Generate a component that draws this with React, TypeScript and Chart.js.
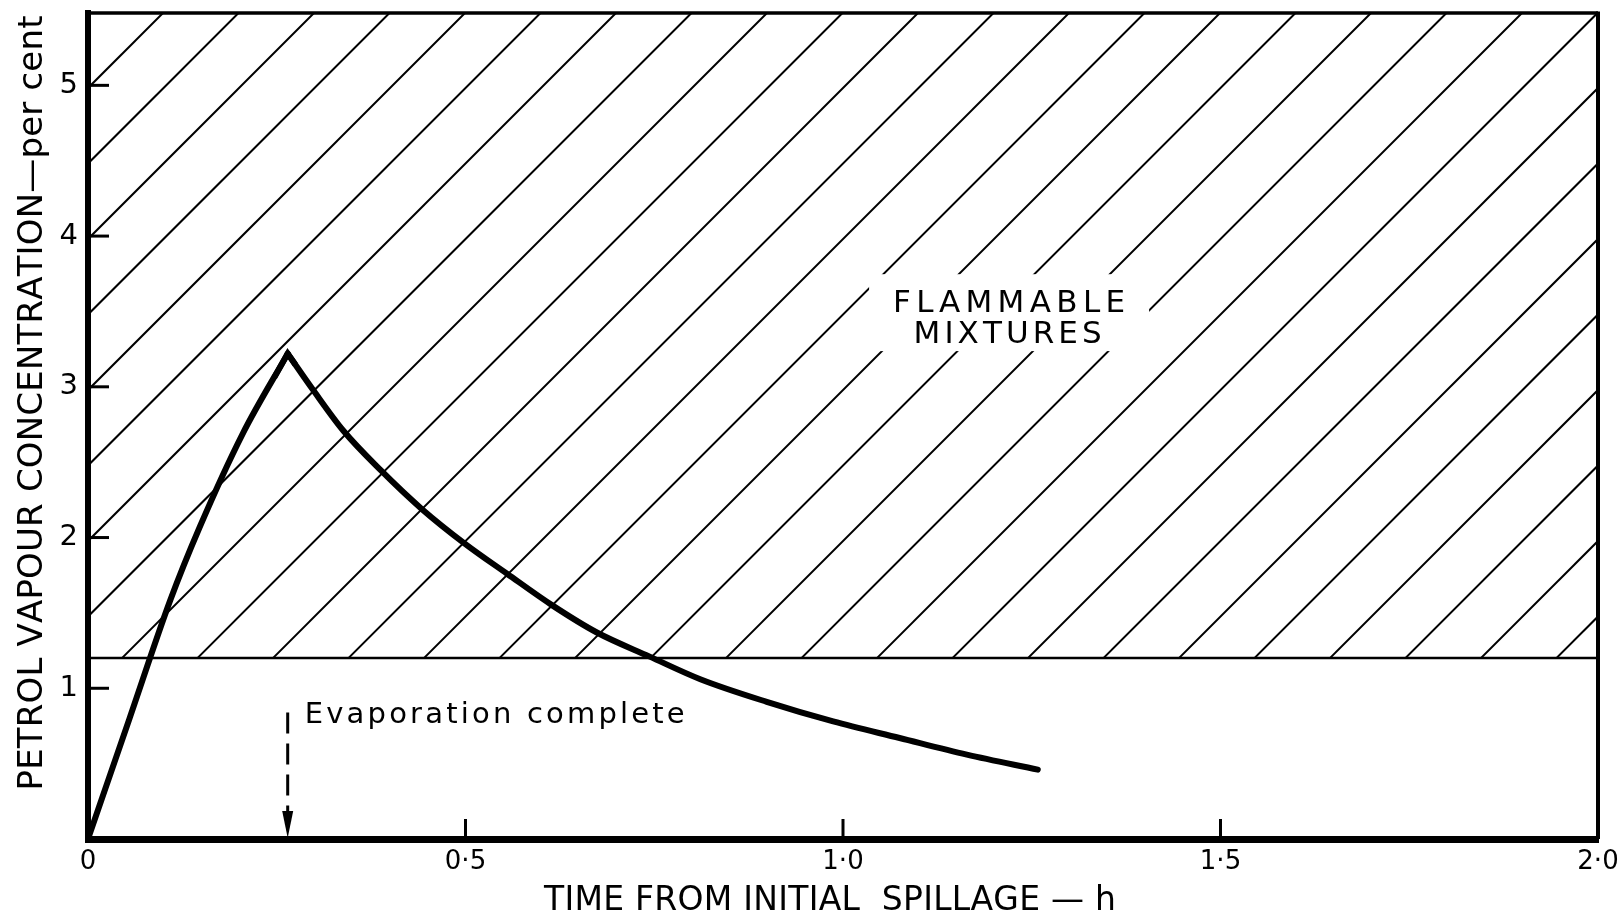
import React, { useEffect, useRef } from 'react';
import { Chart, registerables } from 'chart.js';

Chart.register(...registerables);

// ---- data ----
const riseTime = [0, 0.055, 0.109, 0.148, 0.205, 0.2645];
const riseConc = [0, 0.8, 1.585, 2.07, 2.69, 3.22];
const fallTime = [0.2645, 0.298, 0.338, 0.387, 0.442, 0.499, 0.555, 0.615, 0.674, 0.744, 0.811, 0.899, 0.987, 1.075, 1.164, 1.258];
const fallConc = [3.22, 2.98, 2.71, 2.45, 2.19, 1.96, 1.76, 1.55, 1.37, 1.21, 1.06, 0.91, 0.78, 0.67, 0.56, 0.46];

const xTickValues = [0, 0.5, 1.0, 1.5, 2.0];
const xTickLabels = ['0', '0·5', '1·0', '1·5', '2·0'];
const yTickValues = [1, 2, 3, 4, 5];
const yTickLabels = ['1', '2', '3', '4', '5'];

const lowerFlammableLimit = 1.2;
const evaporationTime = 0.2645;
const xMin = 0;
const xMax = 2.0;
const yMin = 0;
const yMax = 5.48;

const xTitle = 'TIME FROM INITIAL  SPILLAGE — h';
const yTitle = 'PETROL VAPOUR CONCENTRATION—per cent';
const zoneLabel = ['FLAMMABLE', 'MIXTURES'];
const evapLabel = 'Evaporation complete';

const FONT = '"DejaVu Sans", "Liberation Sans", sans-serif';

function drawSpaced(ctx: CanvasRenderingContext2D, text: string, x: number, y: number, targetWidth: number, align: 'left' | 'center') {
  const chars = Array.from(text);
  const widths = chars.map((c) => ctx.measureText(c).width);
  const natural = widths.reduce((a, b) => a + b, 0);
  const gap = chars.length > 1 ? (targetWidth - natural) / (chars.length - 1) : 0;
  let cx = align === 'center' ? x - targetWidth / 2 : x;
  ctx.textAlign = 'left';
  chars.forEach((c, i) => {
    ctx.fillText(c, cx, y);
    cx += widths[i] + gap;
  });
}

const decorPlugin = {
  id: 'decor',
  beforeDatasetsDraw(chart: any) {
    const { ctx, chartArea } = chart;
    const { left, right, top } = chartArea;
    const xs = chart.scales.x;
    const ys = chart.scales.y;
    const yL = ys.getPixelForValue(lowerFlammableLimit);

    // hatching of the flammable zone
    ctx.save();
    ctx.beginPath();
    ctx.rect(left, top, right - left, yL - top);
    ctx.clip();
    ctx.strokeStyle = '#000';
    ctx.lineWidth = 2;
    const sp = 75.5;
    const k0 = left + top + 75;
    for (let k = k0 - sp * 3; k < right + yL + sp; k += sp) {
      ctx.beginPath();
      ctx.moveTo(k - top, top);
      ctx.lineTo(k - yL, yL);
      ctx.stroke();
    }
    ctx.restore();

    // white box behind zone label
    ctx.save();
    const cx = xs.getPixelForValue(1.22);
    const b1 = ys.getPixelForValue(3.495);
    const b2 = ys.getPixelForValue(3.29);
    ctx.fillStyle = '#fff';
    ctx.fillRect(cx - 140, b1 - 38, 280, b2 - b1 + 46);
    ctx.restore();

    // lower flammable limit line
    ctx.save();
    ctx.strokeStyle = '#000';
    ctx.lineWidth = 2.5;
    ctx.beginPath();
    ctx.moveTo(left, yL);
    ctx.lineTo(right, yL);
    ctx.stroke();
    ctx.restore();
  },
  afterDatasetsDraw(chart: any) {
    const { ctx, chartArea } = chart;
    const { left, right, top, bottom } = chartArea;
    const xs = chart.scales.x;
    const ys = chart.scales.y;
    ctx.save();
    ctx.strokeStyle = '#000';
    ctx.fillStyle = '#000';

    // top and right frame
    ctx.lineWidth = 3.5;
    ctx.beginPath();
    ctx.moveTo(left, top);
    ctx.lineTo(right, top);
    ctx.stroke();
    ctx.lineWidth = 4;
    ctx.beginPath();
    ctx.moveTo(right, top - 1.5);
    ctx.lineTo(right, bottom);
    ctx.stroke();

    // inward tick marks
    ctx.lineWidth = 3;
    yTickValues.forEach((v) => {
      const py = ys.getPixelForValue(v);
      ctx.beginPath();
      ctx.moveTo(left, py);
      ctx.lineTo(left + 21, py);
      ctx.stroke();
    });
    xTickValues.forEach((v) => {
      if (v === xMin || v === xMax) return;
      const px = xs.getPixelForValue(v);
      ctx.beginPath();
      ctx.moveTo(px, bottom);
      ctx.lineTo(px, bottom - 20);
      ctx.stroke();
    });

    // peak tip (sharp join between rising and falling branches)
    const px0 = xs.getPixelForValue(riseTime[riseTime.length - 2]);
    const py0 = ys.getPixelForValue(riseConc[riseConc.length - 2]);
    const pxP = xs.getPixelForValue(fallTime[0]);
    const pyP = ys.getPixelForValue(fallConc[0]);
    const px1 = xs.getPixelForValue(fallTime[1]);
    const py1 = ys.getPixelForValue(fallConc[1]);
    ctx.lineWidth = 6;
    ctx.lineJoin = 'miter';
    ctx.lineCap = 'butt';
    ctx.beginPath();
    ctx.moveTo(pxP + (px0 - pxP) * 0.3, pyP + (py0 - pyP) * 0.3);
    ctx.lineTo(pxP, pyP);
    ctx.lineTo(pxP + (px1 - pxP) * 0.3, pyP + (py1 - pyP) * 0.3);
    ctx.stroke();

    // evaporation arrow
    const ax = xs.getPixelForValue(evaporationTime);
    const aTop = ys.getPixelForValue(0.84);
    ctx.lineWidth = 3;
    ctx.setLineDash([21, 10]);
    ctx.beginPath();
    ctx.moveTo(ax, aTop);
    ctx.lineTo(ax, bottom - 26);
    ctx.stroke();
    ctx.setLineDash([]);
    ctx.beginPath();
    ctx.moveTo(ax - 5.5, bottom - 28);
    ctx.lineTo(ax + 5.5, bottom - 28);
    ctx.lineTo(ax, bottom - 1);
    ctx.closePath();
    ctx.fill();

    // annotation texts
    ctx.textBaseline = 'alphabetic';
    ctx.font = `29px ${FONT}`;
    drawSpaced(ctx, evapLabel, ax + 17, ys.getPixelForValue(0.77), 380, 'left');

    ctx.font = `31px ${FONT}`;
    drawSpaced(ctx, zoneLabel[0], xs.getPixelForValue(1.22), ys.getPixelForValue(3.495), 232, 'center');
    drawSpaced(ctx, zoneLabel[1], xs.getPixelForValue(1.218), ys.getPixelForValue(3.29), 188, 'center');

    // axis titles
    ctx.font = `33px ${FONT}`;
    drawSpaced(ctx, xTitle, 830, 910, 572, 'center');

    ctx.save();
    ctx.translate(42, 403);
    ctx.rotate(-Math.PI / 2);
    ctx.font = `34px ${FONT}`;
    drawSpaced(ctx, yTitle, 0, 0, 775, 'center');
    ctx.restore();

    ctx.restore();
  },
};

export default function App() {
  const ref = useRef<HTMLCanvasElement>(null);

  useEffect(() => {
    const rise = riseTime.map((t, i) => ({ x: t, y: riseConc[i] }));
    const fall = fallTime.map((t, i) => ({ x: t, y: fallConc[i] }));
    const lineStyle = {
      borderColor: '#000',
      borderWidth: 6,
      pointRadius: 0,
      cubicInterpolationMode: 'monotone',
      fill: false,
      borderJoinStyle: 'round',
      borderCapStyle: 'round',
    };
    const chart = new Chart(ref.current as HTMLCanvasElement, {
      type: 'line',
      data: {
        datasets: [
          { data: rise, ...lineStyle } as any,
          { data: fall, ...lineStyle } as any,
        ],
      },
      options: {
        animation: false,
        responsive: false,
        devicePixelRatio: 1,
        layout: { padding: { left: 0, top: 13, right: 22, bottom: 0 } },
        plugins: { legend: { display: false }, tooltip: { enabled: false }, title: { display: false } },
        scales: {
          x: {
            type: 'linear',
            min: xMin,
            max: xMax,
            afterBuildTicks: (s: any) => {
              s.ticks = xTickValues.map((v) => ({ value: v }));
            },
            afterFit: (s: any) => {
              s.height = 77;
              s.paddingLeft = 0;
              s.paddingRight = 0;
            },
            grid: { display: false, drawTicks: false },
            border: { display: true, color: '#000', width: 7 },
            ticks: {
              padding: 8,
              color: '#000',
              autoSkip: false,
              maxRotation: 0,
              font: { family: FONT, size: 26 },
              callback: (_v: any, i: number) => xTickLabels[i],
            },
          },
          y: {
            type: 'linear',
            min: yMin,
            max: yMax,
            afterBuildTicks: (s: any) => {
              s.ticks = yTickValues.map((v) => ({ value: v }));
            },
            afterFit: (s: any) => {
              s.width = 88;
              s.paddingTop = 0;
              s.paddingBottom = 0;
            },
            grid: { display: false, drawTicks: false },
            border: { display: true, color: '#000', width: 6 },
            ticks: {
              padding: 10,
              color: '#000',
              font: { family: FONT, size: 29 },
              callback: (_v: any, i: number) => yTickLabels[i],
            },
          },
        },
      },
      plugins: [decorPlugin],
    } as any);
    return () => chart.destroy();
  }, []);

  return (
    <div style={{ position: 'fixed', left: 0, top: 0, width: 1620, height: 916, background: '#fff' }}>
      <canvas ref={ref} width={1620} height={916} style={{ display: 'block', width: 1620, height: 916 }} />
    </div>
  );
}
